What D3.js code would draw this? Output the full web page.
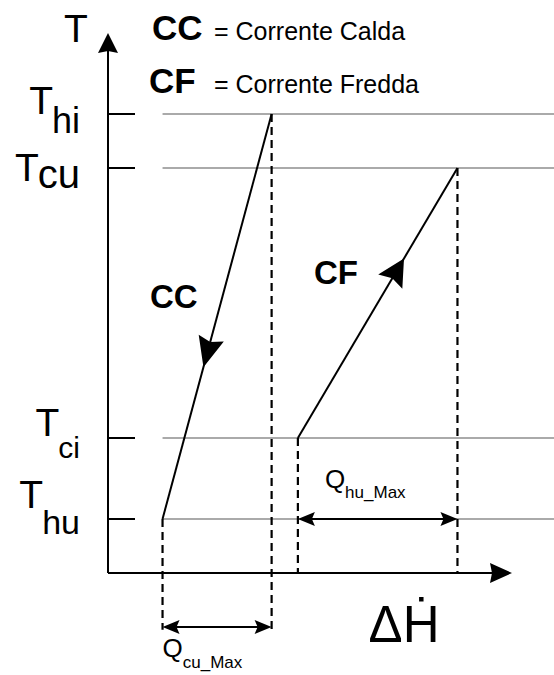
<!DOCTYPE html>
<html>
<head>
<meta charset="utf-8">
<script src="https://cdn.jsdelivr.net/npm/d3@7"></script>
<style>
  body { margin: 0; background: #fff; }
  text { font-family: "Liberation Sans", Arial, sans-serif; fill: #000; }
</style>
</head>
<body>
<div id="chart"></div>
<script>
// temperature levels (subscript of T) and their values on the T axis
const levelSubs = ["hi", "cu", "ci", "hu"];
const levelT = [85, 75, 25, 10];

// hot stream (CC) and cold stream (CF): enthalpy / temperature end points
const ccH = [40.5, 13.5], ccT = [85, 10];
const cfH = [47, 86.5], cfT = [25, 75];

const legendKeys = ["CC", "CF"];
const legendNames = ["= Corrente Calda", "= Corrente Fredda"];
const qSubs = ["cu_Max", "hu_Max"];
const axisNames = ["T", "\u0394\u1E22"];

const width = 554, height = 675;
const x = d3.scaleLinear().domain([0, 100]).range([108, 512]);
const y = d3.scaleLinear().domain([0, 100]).range([573, 33]);

const svg = d3.select("#chart").append("svg")
    .attr("width", width).attr("height", height);

// filled, slightly notched arrow head pointing from (x0,y0) to tip (x1,y1)
function head(x0, y0, x1, y1, len, hw, notch) {
    const a = Math.atan2(y1 - y0, x1 - x0);
    const dx = Math.cos(a), dy = Math.sin(a);
    const bx = x1 - len * dx, by = y1 - len * dy;
    const pts = [[x1, y1], [bx - hw * dy, by + hw * dx],
                 [x1 - (len - notch) * dx, y1 - (len - notch) * dy],
                 [bx + hw * dy, by - hw * dx]];
    svg.append("path").attr("d", "M" + pts.join("L") + "Z").attr("fill", "#000");
}

// grey guide lines at each temperature level
svg.selectAll(".guide").data(levelT).enter().append("line")
    .attr("x1", x(ccH[1])).attr("x2", width)
    .attr("y1", d => y(d)).attr("y2", d => y(d))
    .attr("stroke", "#aaa").attr("stroke-width", 2);

// axes
svg.append("line").attr("x1", x(0)).attr("x2", x(0)).attr("y1", y(0)).attr("y2", y(100) + 10)
    .attr("stroke", "#000").attr("stroke-width", 2);
head(x(0), y(0), x(0), y(100), 20, 10, 2);
svg.append("line").attr("x1", x(0)).attr("x2", x(100) - 10).attr("y1", y(0)).attr("y2", y(0))
    .attr("stroke", "#000").attr("stroke-width", 2);
head(x(0), y(0), x(100), y(0), 22, 10, 2);

// ticks on T axis
svg.selectAll(".tick").data(levelT).enter().append("line")
    .attr("x1", x(0)).attr("x2", x(0) + 27)
    .attr("y1", d => y(d)).attr("y2", d => y(d))
    .attr("stroke", "#000").attr("stroke-width", 2);

// dashed projections
const drops = [[ccH[1], ccT[1], -10.5], [ccH[0], ccT[0], -10.5], [cfH[0], cfT[0], 0], [cfH[1], cfT[1], 0]];
svg.selectAll(".drop").data(drops).enter().append("line")
    .attr("x1", d => x(d[0])).attr("x2", d => x(d[0]))
    .attr("y1", d => y(d[1])).attr("y2", d => y(d[2]))
    .attr("stroke", "#000").attr("stroke-width", 2.2).attr("stroke-dasharray", "8,5");

// stream lines
const line = d3.line().x(d => x(d[0])).y(d => y(d[1]));
const streams = [d3.zip(ccH, ccT), d3.zip(cfH, cfT)];
svg.selectAll(".stream").data(streams).enter().append("path")
    .attr("d", line).attr("fill", "none").attr("stroke", "#000").attr("stroke-width", 2);

// direction arrows along the streams
[[streams[0], 0.625, 30, 13], [streams[1], 0.665, 27, 14]].forEach(([s, t, len, hw]) => {
    const x0 = x(s[0][0]), y0 = y(s[0][1]), x1 = x(s[1][0]), y1 = y(s[1][1]);
    head(x0, y0, x0 + (x1 - x0) * t, y0 + (y1 - y0) * t, len, hw, 4);
});

// Q dimension arrows
const qArrows = [[ccH[1], ccH[0], -10], [cfH[0], cfH[1], levelT[3]]];
qArrows.forEach(([h0, h1, t]) => {
    svg.append("line").attr("x1", x(h0) + 6).attr("x2", x(h1) - 6)
        .attr("y1", y(t)).attr("y2", y(t)).attr("stroke", "#000").attr("stroke-width", 2);
    head(x(h1), y(t), x(h0), y(t), 17, 7, 3);
    head(x(h0), y(t), x(h1), y(t), 17, 7, 3);
});

// Q labels
const qPos = [[qArrows[0][0], qArrows[0][2], 0, 30, 11], [qArrows[1][0], qArrows[1][2], 27, -31, 10]];
qPos.forEach(([h, t, dx, dy, sdy], i) => {
    const tx = svg.append("text").attr("x", x(h) + dx).attr("y", y(t) + dy).attr("font-size", 26);
    tx.append("tspan").text("Q");
    tx.append("tspan").attr("dy", sdy).attr("font-size", 17).text(qSubs[i]);
});

// temperature level labels
const tDy = [0, 13, -2, -11], subDy = [19, 20, 20, 15], subSize = [36, 40, 30, 34];
levelSubs.forEach((s, i) => {
    const sub = svg.append("text").attr("x", 80).attr("y", y(levelT[i]) + subDy[i])
        .attr("font-size", subSize[i]).attr("text-anchor", "end").text(s);
    const left = 80 - sub.node().getComputedTextLength();
    svg.append("text").attr("x", left + 1).attr("y", y(levelT[i]) + tDy[i])
        .attr("font-size", 39).attr("text-anchor", "end").text("T");
});

// axis names
svg.append("text").attr("x", 64).attr("y", 42).attr("font-size", 39).text(axisNames[0]);
svg.append("text").attr("x", x(64.5)).attr("y", y(0) + 69).attr("font-size", 51).text(axisNames[1]);

// legend
legendKeys.forEach((k, i) => {
    svg.append("text").attr("x", 152 - i * 3).attr("y", 40 + i * 53)
        .attr("font-size", 35).attr("font-weight", "bold").text(k);
    svg.append("text").attr("x", 214).attr("y", 40 + i * 53)
        .attr("font-size", 25).text(legendNames[i]);
});

// in-plot stream names
svg.append("text").attr("x", 150).attr("y", 308).attr("font-size", 33).attr("font-weight", "bold").text(legendKeys[0]);
svg.append("text").attr("x", 314).attr("y", 284).attr("font-size", 33).attr("font-weight", "bold").text(legendKeys[1]);
</script>
</body>
</html>
